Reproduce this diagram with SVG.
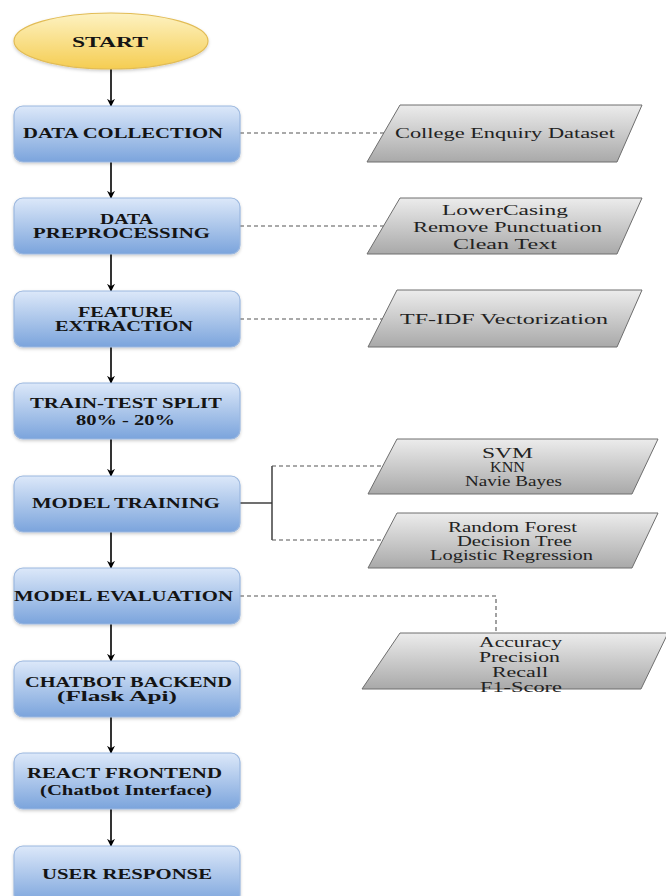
<svg xmlns="http://www.w3.org/2000/svg" width="666" height="896" viewBox="0 0 666 896">
<style>
.box{fill:url(#gBlue);stroke:#9cb8df;stroke-width:1.2}
.par{fill:url(#gGray);stroke:#6e6e6e;stroke-width:1}
.bt{font-family:"Liberation Serif",serif;font-weight:bold;font-size:14px;fill:#141414;text-anchor:middle}
.rt{font-family:"Liberation Serif",serif;font-size:14px;fill:#222;text-anchor:middle}
.arr{stroke:#000;stroke-width:1.6;fill:none;marker-end:url(#ah)}
.dash{stroke:#555;stroke-width:1.1;fill:none;stroke-dasharray:4 3}
.solid{stroke:#333;stroke-width:1.4;fill:none}
</style>
<defs>
<linearGradient id="gBlue" x1="0" y1="0" x2="0" y2="1">
<stop offset="0" stop-color="#dce8f9"/><stop offset="1" stop-color="#7ba4dc"/>
</linearGradient>
<linearGradient id="gGray" x1="0" y1="0" x2="0" y2="1">
<stop offset="0" stop-color="#ececec"/><stop offset="1" stop-color="#a9a9a9"/>
</linearGradient>
<linearGradient id="gYel" x1="0" y1="0" x2="0" y2="1">
<stop offset="0" stop-color="#fdf2c2"/><stop offset="1" stop-color="#f5cd52"/>
</linearGradient>
<filter id="sh" x="-10%" y="-10%" width="120%" height="130%">
<feDropShadow dx="0" dy="1.5" stdDeviation="1.5" flood-color="#000" flood-opacity="0.2"/>
</filter>
<marker id="ah" viewBox="0 0 10 10" refX="9" refY="5" markerWidth="8" markerHeight="8" markerUnits="userSpaceOnUse" orient="auto">
<path d="M0,0 L10,5 L0,10 L3,5 Z" fill="#000"/>
</marker>
</defs>
<rect width="666" height="896" fill="#fff"/>

<g id="connectors">
<line class="arr" x1="111" y1="69" x2="111" y2="106"/>
<line class="arr" x1="111" y1="162" x2="111" y2="198"/>
<line class="arr" x1="111" y1="254" x2="111" y2="291"/>
<line class="arr" x1="111" y1="347" x2="111" y2="383"/>
<line class="arr" x1="111" y1="439" x2="111" y2="476"/>
<line class="arr" x1="111" y1="532" x2="111" y2="568"/>
<line class="arr" x1="111" y1="624" x2="111" y2="661"/>
<line class="arr" x1="111" y1="717" x2="111" y2="753"/>
<line class="arr" x1="111" y1="809" x2="111" y2="846"/>
<line class="dash" x1="240" y1="133" x2="384" y2="133"/>
<line class="dash" x1="240" y1="226" x2="384" y2="226"/>
<line class="dash" x1="240" y1="319" x2="383" y2="319"/>
<line class="solid" x1="240" y1="503" x2="272" y2="503"/>
<line class="solid" x1="272" y1="466" x2="272" y2="540"/>
<line class="dash" x1="272" y1="466" x2="385" y2="466"/>
<line class="dash" x1="272" y1="540" x2="383" y2="540"/>
<polyline class="dash" points="240,596 496,596 496,633"/>
</g>

<g id="start">
<ellipse cx="111" cy="41" rx="97" ry="28" fill="url(#gYel)" stroke="#e2bc55" stroke-width="1.2" filter="url(#sh)"/>
<text class="bt" x="110" y="47" textLength="76" lengthAdjust="spacingAndGlyphs">START</text>
</g>

<g id="data-collection">
<rect class="box" x="14" y="106" width="226" height="56" rx="9" filter="url(#sh)"/>
<text class="bt" x="123" y="138" textLength="200" lengthAdjust="spacingAndGlyphs">DATA COLLECTION</text>
</g>
<g id="data-preprocessing">
<rect class="box" x="14" y="198" width="226" height="56" rx="9" filter="url(#sh)"/>
<text class="bt" x="126.5" y="224" textLength="53" lengthAdjust="spacingAndGlyphs">DATA</text>
<text class="bt" x="121.5" y="238" textLength="177" lengthAdjust="spacingAndGlyphs">PREPROCESSING</text>
</g>
<g id="feature-extraction">
<rect class="box" x="14" y="291" width="226" height="56" rx="9" filter="url(#sh)"/>
<text class="bt" x="125.5" y="317" textLength="95" lengthAdjust="spacingAndGlyphs">FEATURE</text>
<text class="bt" x="124" y="331" textLength="138" lengthAdjust="spacingAndGlyphs">EXTRACTION</text>
</g>
<g id="train-test-split">
<rect class="box" x="14" y="383" width="226" height="56" rx="9" filter="url(#sh)"/>
<text class="bt" x="126" y="408" textLength="192" lengthAdjust="spacingAndGlyphs">TRAIN-TEST SPLIT</text>
<text class="bt" x="125.5" y="425" textLength="99" lengthAdjust="spacingAndGlyphs">80% - 20%</text>
</g>
<g id="model-training">
<rect class="box" x="14" y="476" width="226" height="56" rx="9" filter="url(#sh)"/>
<text class="bt" x="126" y="508" textLength="188" lengthAdjust="spacingAndGlyphs">MODEL TRAINING</text>
</g>
<g id="model-evaluation">
<rect class="box" x="14" y="568" width="226" height="56" rx="9" filter="url(#sh)"/>
<text class="bt" x="123.5" y="601" textLength="219" lengthAdjust="spacingAndGlyphs">MODEL EVALUATION</text>
</g>
<g id="chatbot-backend">
<rect class="box" x="14" y="661" width="226" height="56" rx="9" filter="url(#sh)"/>
<text class="bt" x="128.5" y="687" textLength="207" lengthAdjust="spacingAndGlyphs">CHATBOT BACKEND</text>
<text class="bt" x="117" y="701" textLength="120" lengthAdjust="spacingAndGlyphs">(Flask Api)</text>
</g>
<g id="react-frontend">
<rect class="box" x="14" y="753" width="226" height="56" rx="9" filter="url(#sh)"/>
<text class="bt" x="124.5" y="778" textLength="195" lengthAdjust="spacingAndGlyphs">REACT FRONTEND</text>
<text class="bt" x="126" y="795" textLength="172" lengthAdjust="spacingAndGlyphs">(Chatbot Interface)</text>
</g>
<g id="user-response">
<rect class="box" x="14" y="846" width="226" height="58" rx="9" filter="url(#sh)"/>
<text class="bt" x="127" y="879" textLength="170" lengthAdjust="spacingAndGlyphs">USER RESPONSE</text>
</g>

<g id="dataset">
<polygon class="par" points="400,105 642,105 617,162 367,162"/>
<text class="rt" x="505" y="138" textLength="220" lengthAdjust="spacingAndGlyphs">College Enquiry Dataset</text>
</g>
<g id="preprocessing-steps">
<polygon class="par" points="400,198 642,198 617,254 367,254"/>
<text class="rt" x="505" y="215" font-size="15" textLength="126" lengthAdjust="spacingAndGlyphs">LowerCasing</text>
<text class="rt" x="507.5" y="232" font-size="15" textLength="189" lengthAdjust="spacingAndGlyphs">Remove Punctuation</text>
<text class="rt" x="505" y="249" font-size="15" textLength="104" lengthAdjust="spacingAndGlyphs">Clean Text</text>
</g>
<g id="tfidf">
<polygon class="par" points="397,290 642,290 617,347 368,347"/>
<text class="rt" x="504" y="324" textLength="208" lengthAdjust="spacingAndGlyphs">TF-IDF Vectorization</text>
</g>
<g id="models-a">
<polygon class="par" points="397,439 658,439 632,494 368,494"/>
<text class="rt" x="507.5" y="458" font-size="12.5" textLength="51" lengthAdjust="spacingAndGlyphs">SVM</text>
<text class="rt" x="507.5" y="472" font-size="12.5" textLength="35" lengthAdjust="spacingAndGlyphs">KNN</text>
<text class="rt" x="513.5" y="486" font-size="12.5" textLength="97" lengthAdjust="spacingAndGlyphs">Navie Bayes</text>
</g>
<g id="models-b">
<polygon class="par" points="397,513 658,513 632,568 368,568"/>
<text class="rt" x="512.5" y="532" font-size="13" textLength="129" lengthAdjust="spacingAndGlyphs">Random Forest</text>
<text class="rt" x="514.5" y="546" font-size="13" textLength="115" lengthAdjust="spacingAndGlyphs">Decision Tree</text>
<text class="rt" x="511.5" y="560" font-size="13" textLength="163" lengthAdjust="spacingAndGlyphs">Logistic Regression</text>
</g>
<g id="metrics">
<polygon class="par" points="400,633 668,633 641,689 362,689"/>
<text class="rt" x="520.5" y="647" font-size="13.5" textLength="83" lengthAdjust="spacingAndGlyphs">Accuracy</text>
<text class="rt" x="519.5" y="662" font-size="13.5" textLength="81" lengthAdjust="spacingAndGlyphs">Precision</text>
<text class="rt" x="520" y="677" font-size="13.5" textLength="56" lengthAdjust="spacingAndGlyphs">Recall</text>
<text class="rt" x="521" y="692" font-size="13.5" textLength="82" lengthAdjust="spacingAndGlyphs">F1-Score</text>
</g>
</svg>
